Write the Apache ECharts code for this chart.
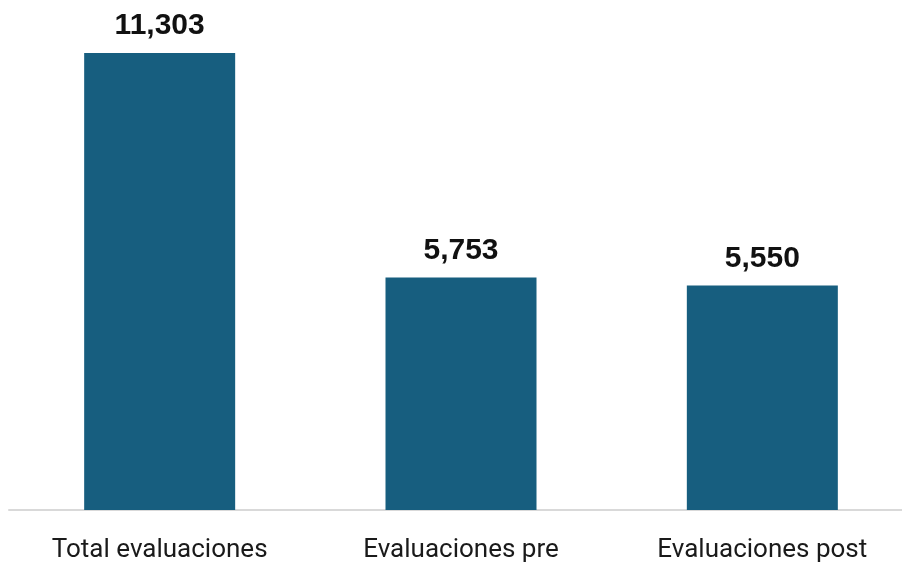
<!DOCTYPE html>
<html><head><meta charset="utf-8">
<script src="https://cdn.jsdelivr.net/npm/echarts@6/dist/echarts.min.js"></script>
<style>html,body{margin:0;padding:0;background:#fff}#c{width:902px;height:563px}</style>
</head><body><div id="c"></div>
<script>
const categories = ['Total evaluaciones', 'Evaluaciones pre', 'Evaluaciones post'];
const values = [11303, 5753, 5550];
const chart = echarts.init(document.getElementById('c'), null, {renderer: 'canvas'});
chart.setOption({
  animation: false,
  grid: {left: 9, top: 10, width: 904, height: 500, containLabel: false, outerBoundsMode: 'none'},
  xAxis: {
    type: 'category', data: categories,
    axisLine: {lineStyle: {color: '#d9d9d9', width: 2}},
    axisTick: {show: false},
    axisLabel: {color: '#1a1a1a', fontSize: 26, fontFamily: 'Roboto', margin: 27}
  },
  yAxis: {type: 'value', min: 0, max: 12367, show: false, splitLine: {show: false}},
  series: [{
    type: 'bar', data: values, barWidth: 151,
    itemStyle: {color: '#175E7F'},
    label: {show: true, position: 'top', distance: 12, fontSize: 30, fontWeight: 'bold',
      fontFamily: 'Liberation Sans', color: '#111',
      formatter: p => p.value.toLocaleString('en-US')}
  }]
});
</script></body></html>
